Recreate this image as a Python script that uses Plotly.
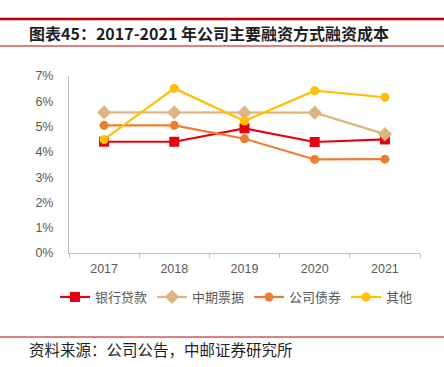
import plotly.graph_objects as go

years = ["2017", "2018", "2019", "2020", "2021"]
bank_loans = [4.40, 4.40, 4.93, 4.39, 4.49]
mtn = [5.56, 5.56, 5.55, 5.55, 4.70]
corp_bonds = [5.05, 5.05, 4.52, 3.70, 3.71]
others = [4.49, 6.51, 5.22, 6.42, 6.16]
y_ticks = [0, 1, 2, 3, 4, 5, 6, 7]
y_labels = [f"{v}%" for v in y_ticks]

W, H = 444, 367
font = "Noto Sans CJK SC"
tick_font = "Liberation Sans"

series = [
    ("银行贷款", bank_loans, "#E60012", "square", 10),
    ("中期票据", mtn, "#DDB57F", "diamond", 11),
    ("公司债券", corp_bonds, "#ED7D31", "circle", 9),
    ("其他", others, "#FFC000", "circle", 9),
]
legend_ids = ["legend", "legend2", "legend3", "legend4"]
legend_x = [55, 152, 249, 346]

fig = go.Figure()
for (name, vals, color, sym, size), lid in zip(series, legend_ids):
    fig.add_trace(go.Scatter(
        x=years, y=vals, name=name, mode="lines+markers",
        line=dict(color=color, width=2.2),
        marker=dict(symbol=sym, size=size, color=color),
        legend=lid,
    ))

L, R, T, B = 69, 24, 76, 114
PW, PH = W - L - R, H - T - B

layout_legends = {}
for lid, lx in zip(legend_ids, legend_x):
    layout_legends[lid] = dict(
        orientation="h", xref="container", yref="container",
        x=lx / W, xanchor="left", y=1 - 282 / H, yanchor="top",
        font=dict(size=13, color="#595959", family=font), itemwidth=30,
        bgcolor="rgba(0,0,0,0)")

fig.update_layout(
    width=W, height=H,
    margin=dict(l=L, r=R, t=T, b=B, autoexpand=False),
    paper_bgcolor="white", plot_bgcolor="white",
    font=dict(family=font, color="#595959", size=12),
    showlegend=True,
    xaxis=dict(type="category", range=[-0.5, 4.5], showline=True, linecolor="#BFBFBF",
               linewidth=1, ticks="outside", tickson="boundaries", ticklen=4,
               tickcolor="#BFBFBF", showgrid=False, ticklabelstandoff=4,
               tickfont=dict(size=12.5, color="#595959", family=tick_font)),
    yaxis=dict(range=[0, 7], tickvals=y_ticks, ticktext=y_labels, showline=True,
               linecolor="#BFBFBF", linewidth=1, ticks="outside", ticklen=0,
               showgrid=False, zeroline=False, ticklabelstandoff=12,
               tickfont=dict(size=12.5, color="#595959", family=tick_font)),
    **layout_legends,
)

def py(y):
    return (H - B - y) / PH

def px(x):
    return (x - L) / PW

for y, w in [(19, 2.5), (46, 1), (337, 1)]:
    fig.add_shape(type="line", xref="paper", yref="paper", x0=px(0), x1=px(W),
                  y0=py(y), y1=py(y), line=dict(color="#C00000", width=w))

fig.add_annotation(text="<b>图表45：2017-2021 年公司主要融资方式融资成本</b>",
                   xref="paper", yref="paper", x=px(27), y=py(33),
                   xanchor="left", yanchor="middle", showarrow=False,
                   font=dict(size=16, color="#1F1F1F", family=font))
fig.add_annotation(text="资料来源：公司公告，中邮证券研究所",
                   xref="paper", yref="paper", x=px(27), y=py(349),
                   xanchor="left", yanchor="middle", showarrow=False,
                   font=dict(size=15.5, color="#1F1F1F", family=font))

fig.write_html("out.html", config={"displayModeBar": False},
               post_script="document.body.style.margin='0';document.body.style.overflow='hidden';")
